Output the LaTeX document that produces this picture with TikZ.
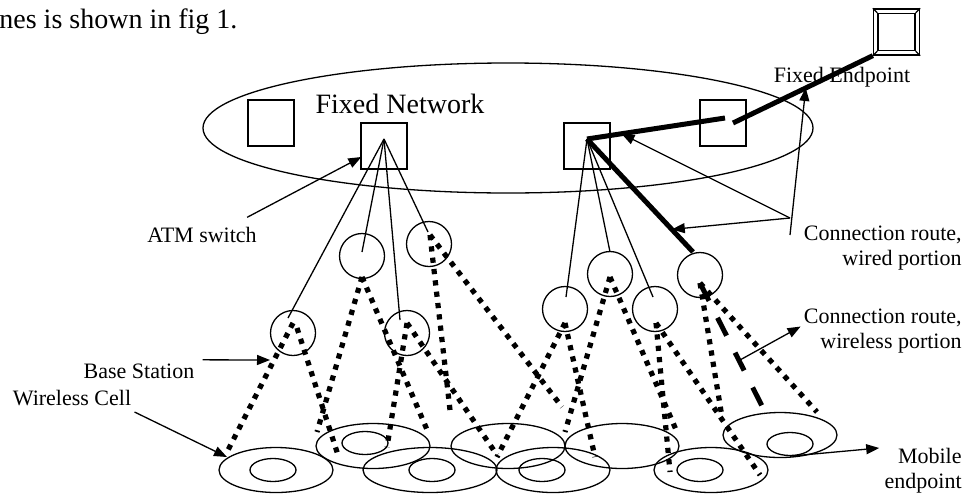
\documentclass[tikz,border=0pt]{standalone}
\usepackage{fontspec}
\setmainfont{Liberation Serif}
\usetikzlibrary{calc,arrows.meta,shapes.geometric}
\tikzset {>={Triangle[length=6.5pt,width=5pt]}}
\tikzset{
  switch/.style={draw,line width=.65pt,minimum size=23pt,inner sep=0pt},
  station/.style={draw,circle,line width=.65pt,minimum size=22.5pt,inner sep=0pt},
  cell/.style={draw,ellipse,line width=.65pt,minimum width=57pt,minimum height=22.5pt,inner sep=0pt},
  mobile/.style={draw,ellipse,line width=.65pt,minimum width=23pt,minimum height=11.5pt,inner sep=0pt},
  link/.style={line width=.65pt},
  route/.style={line width=2.5pt},
  radio/.style={line width=2.6pt,dash pattern=on 2.6pt off 3.1pt},
  txt/.style={font=\fontsize{11}{12.5}\selectfont,inner sep=0pt}
}

\begin{document}
\begin{tikzpicture}[x=.5pt,y=-.5pt]
\useasboundingbox (0,0) rectangle (968,493);
\node[txt,font=\fontsize{14}{16}\selectfont,anchor=base west] (intro) at (-1,28) {nes is shown in fig 1.};
% fixed network
\node[draw,ellipse,line width=.65pt,minimum width=305pt,minimum height=65pt,inner sep=0pt] (net) at (508,128) {};
\node[txt,font=\fontsize{14}{16}\selectfont,anchor=base] (netlbl) at (400,113) {Fixed Network};
\node[switch] (sw0) at (271,123) {};
\node[switch] (atm) at (384,146) {};
\node[switch] (sw2) at (587,146) {};
\node[switch] (sw3) at (723,123) {};
\node[switch] (fe) at (896.5,32) {};
\node[draw,line width=.65pt,minimum size=18.5pt,inner sep=0pt] (fein) at (fe) {};
\foreach \c in {north east,north west,south east,south west}
  \draw[link] (fe.\c) -- (fein.\c);
\coordinate (hubA) at (384,139);
\coordinate (hubB) at (587,139);
% base stations and cells
\foreach \n/\x/\y in {1/293/333,2/362/256,3/429/244,4/407/333,5/565/309,6/610/274,7/655/309,8/700/275}
  \node[station] (bs\n) at (\x,\y) {};
\foreach \n/\x/\y in {1/276/470,2/373/446,4/553/470,5/508/446,6/622/446,7/711/470,8/780/435}
  \node[cell] (cell\n) at (\x,\y) {};
\node[cell,minimum width=67pt] (cell3) at (430,470) {};
\foreach \n/\x/\y in {1/273/470,2/365/443,3/432/470,4/542/470,7/700/470,8/790/444}
  \node[mobile] (me\n) at (\x,\y) {};
% wired links
\foreach \b/\dx/\dy in {bs1/-5/-15,bs2/0/-4,bs4/-7/-13,bs3/-1/-12}
  \draw[link] (hubA) -- ($(\b)+(\dx,\dy)$);
\foreach \b/\dx/\dy in {bs5/1/-12,bs6/0/-22,bs7/-2/-12}
  \draw[link] (hubB) -- ($(\b)+(\dx,\dy)$);
\coordinate (bs8top) at ($(bs8)+(-7,-23)$);
\coordinate (r1) at (725,118);
\coordinate (r2) at (733,123);
\draw[route] (hubB) -- (r1);
\draw[route] (r2) -- (fe.south west);
\draw[route] (hubB) -- (bs8top);
% wireless links
\foreach \b/\sx/\sy/\c/\ex/\ey in {
  bs1/0/-10/cell1/-49/-18, bs1/4/-5/cell2/-35/9,
  bs2/0/21/cell2/-56/-14, bs2/0/21/cell2/55/-14,
  bs3/1/-9/cell3/20/-60, bs3/1/-9/cell6/-60/-39,
  bs4/0/-10/cell2/14/1, bs4/0/-10/cell3/67/-15,
  bs5/0/14/cell4/-56/-13, bs5/0/14/cell4/42/-13,
  bs6/0/3/cell5/57/-14, bs6/0/3/cell6/55/-14,
  bs7/1/14/cell7/-41/2, bs7/1/14/cell7/49/5,
  bs8/0/8/cell8/-58/-18, bs8/0/8/cell8/37/-23}
  \draw[radio] ($(\b)+(\sx,\sy)$) -- ($(\c)+(\ex,\ey)$);
\coordinate (air0) at ($(bs8)+(0,8)$);
\coordinate (air1) at ($(cell8)+(-17,-27)$);
\draw[line width=2.5pt,dash pattern=on 10pt off 9.5pt] (air0) -- (air1);
% labels
\node[txt,anchor=base] (atmlbl) at (202,242) {ATM switch};
\draw[link,->] ($(atmlbl.north east)+(-10,-9)$) -- ($(atm.west)+(1,11)$);
\node[txt,anchor=base] (bslbl) at (139,378) {Base Station};
\draw[link,->] ($(bslbl.east)+(8,-11)$) -- ($(bs1)+(-23,27)$);
\node[txt,anchor=base] (cellbl) at (72,405) {Wireless Cell};
\draw[link,->] ($(cellbl.base east)+(3,7)$) -- ($(cell1)+(-49,-13)$);
\node[txt,anchor=base] (felbl) at (842,82) {Fixed Endpoint};
\node[txt,align=right,anchor=north east] (wired) at (962,226) {Connection route,\\wired portion};
\coordinate (wj) at (790,218);
\coordinate (wb) at (790,235);
\draw[link,->] (wb) -- ($(r2)!0.52!(fe.south west)$);
\draw[link,->] (wj) -- ($(hubB)!0.25!(r1)$);
\draw[link,->] (wj) -- ($(hubB)!0.8!(bs8top)$);
\node[txt,align=right,anchor=north east] (wless) at (962,309) {Connection route,\\wireless portion};
\draw[link,->] ($(air0)!0.62!(air1)$) -- ($(wless.west)+(-3,-5)$);
\node[txt,align=right,anchor=north east] (mob) at (962,448) {Mobile\\endpoint};
\draw[link,->] (me8.south) -- ($(mob.north west)+(-5,0)$);
\end{tikzpicture}
\end{document}
